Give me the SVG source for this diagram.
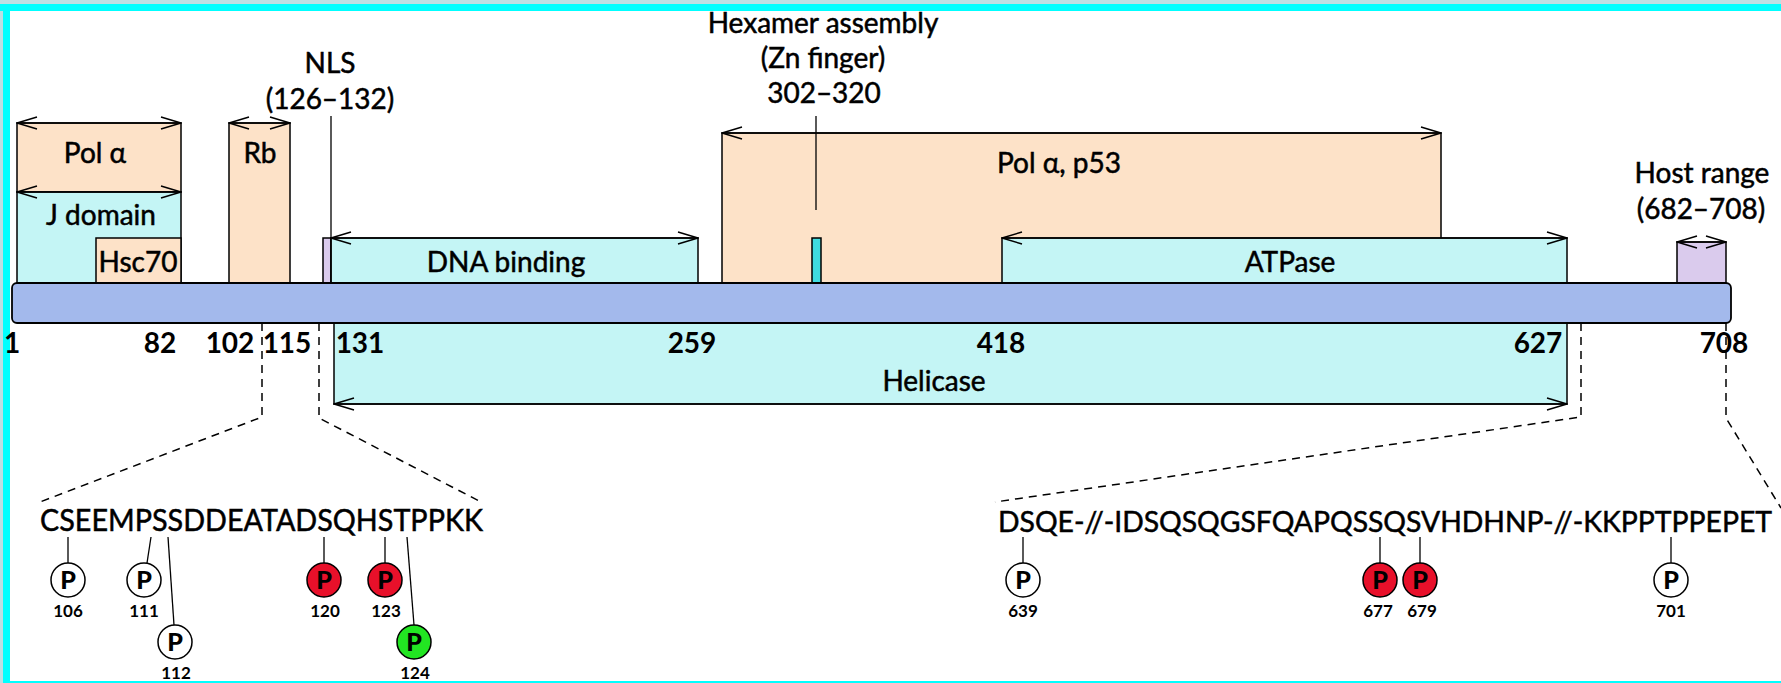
<svg xmlns="http://www.w3.org/2000/svg" width="1781" height="683" viewBox="0 0 1781 683">
<style>
text{font-family:Lato,"Open Sans","Liberation Sans",sans-serif;fill:#000}
.lbl{font-size:28px;text-anchor:middle;stroke:#000;stroke-width:0.5}
.num{font-size:28px;font-weight:bold;text-anchor:middle}
.seq{font-size:28px;stroke:#000;stroke-width:0.5}
.pn{font-size:17px;font-weight:bold;text-anchor:middle}
.pt{font-size:25px;font-weight:900;text-anchor:middle}
.box{stroke:#000;stroke-width:1.5}
.peach{fill:#fde2c8}
.cyan{fill:#c4f5f5}
.purple{fill:#dacbed}
.arr{stroke:#000;stroke-width:1.5;fill:none;marker-start:url(#ah);marker-end:url(#ah)}
.dash{stroke:#000;stroke-width:1.5;fill:none;stroke-dasharray:8 6}
.ln{stroke:#000;stroke-width:1.3;fill:none}
.pc{stroke:#000;stroke-width:1.5}
</style>
<defs>
<marker id="ah" viewBox="0 0 22 14" refX="21" refY="7" markerWidth="22" markerHeight="14" markerUnits="userSpaceOnUse" orient="auto-start-reverse">
<path d="M1,1 L21,7 L1,13" fill="none" stroke="#000" stroke-width="1.5"/>
</marker>
</defs>
<rect x="0" y="0" width="1781" height="683" fill="#fff"/>
<rect x="0" y="0" width="1781" height="4" fill="#bcdfe3"/>
<rect x="0" y="0" width="3" height="683" fill="#bcdfe3"/>
<rect x="0" y="4" width="1781" height="7" fill="#00ffff"/>
<rect x="3" y="4" width="7" height="679" fill="#00ffff"/>
<rect x="3" y="681" width="1778" height="2" fill="#00ffff"/>

<g id="helicase">
<rect class="box cyan" x="334" y="323" width="1233" height="81"/>
<text class="lbl" x="934" y="391">Helicase</text>
</g>
<g id="pol-alpha">
<rect class="box peach" x="17" y="123" width="164" height="69"/>
<text class="lbl" x="95" y="163">Pol α</text>
</g>
<g id="j-domain">
<rect class="box cyan" x="17" y="192" width="164" height="91"/>
<text class="lbl" x="101" y="225">J domain</text>
</g>
<g id="hsc70">
<rect class="box peach" x="96" y="238" width="85" height="45"/>
<text class="lbl" x="138" y="272">Hsc70</text>
</g>
<g id="rb">
<rect class="box peach" x="229" y="123" width="61" height="160"/>
<text class="lbl" x="260" y="163">Rb</text>
</g>
<g id="nls">
<rect class="box purple" x="323" y="238" width="8" height="45"/>
<text class="lbl" x="330" y="73">NLS</text>
<text class="lbl" x="330" y="109">(126–132)</text>
</g>
<g id="dna-binding">
<rect class="box cyan" x="331" y="238" width="367" height="45"/>
<text class="lbl" x="506" y="272">DNA binding</text>
</g>
<g id="pol-alpha-p53">
<rect class="box peach" x="722" y="133" width="719" height="150"/>
<text class="lbl" x="1059" y="173">Pol α, p53</text>
</g>
<g id="zn-finger">
<rect class="box" x="812" y="238" width="9" height="45" fill="#3fdde0"/>
<text class="lbl" x="823" y="33">Hexamer assembly</text>
<text class="lbl" x="823" y="68">(Zn finger)</text>
<text class="lbl" x="824" y="103">302–320</text>
</g>
<g id="atpase">
<rect class="box cyan" x="1002" y="238" width="565" height="45"/>
<text class="lbl" x="1290" y="272">ATPase</text>
</g>
<g id="host-range">
<rect class="box purple" x="1677" y="242" width="49" height="41"/>
<text class="lbl" x="1702" y="183">Host range</text>
<text class="lbl" x="1701" y="219">(682–708)</text>
</g>
<g id="bar">
<rect x="12" y="283" width="1719" height="40" rx="5" fill="#a3b9ec" stroke="#000" stroke-width="1.8"/>
</g>
<g id="numbers">
<text class="num" x="12" y="353">1</text>
<text class="num" x="160" y="353">82</text>
<text class="num" x="230" y="353">102</text>
<text class="num" x="287" y="353">115</text>
<text class="num" x="360" y="353">131</text>
<text class="num" x="692" y="353">259</text>
<text class="num" x="1001" y="353">418</text>
<text class="num" x="1538" y="353">627</text>
<text class="num" x="1724" y="353">708</text>
</g>

<g id="connectors">
<line class="arr" x1="17" y1="123" x2="181" y2="123"/>
<line class="arr" x1="17" y1="192" x2="181" y2="192"/>
<line class="arr" x1="229" y1="123" x2="290" y2="123"/>
<line class="arr" x1="331" y1="238" x2="698" y2="238"/>
<line class="arr" x1="722" y1="133" x2="1441" y2="133"/>
<line class="arr" x1="1002" y1="238" x2="1567" y2="238"/>
<line class="arr" x1="1677" y1="242" x2="1726" y2="242"/>
<line class="arr" x1="334" y1="404" x2="1567" y2="404"/>
<line class="ln" x1="331" y1="116" x2="331" y2="283"/>
<line class="ln" x1="816" y1="116" x2="816" y2="210"/>
<polyline class="dash" points="262,323 262,417 40,502"/>
<polyline class="dash" points="319,323 319,418 483,503"/>
<polyline class="dash" points="1581,323 1581,417 995,502"/>
<polyline class="dash" points="1726,323 1726,418 1781,508"/>
<line class="ln" x1="68" y1="537" x2="68" y2="563"/>
<line class="ln" x1="151" y1="537" x2="147" y2="563"/>
<line class="ln" x1="168" y1="537" x2="174" y2="625"/>
<line class="ln" x1="324" y1="537" x2="324" y2="563"/>
<line class="ln" x1="385" y1="537" x2="385" y2="563"/>
<line class="ln" x1="407" y1="537" x2="414" y2="625"/>
<line class="ln" x1="1023" y1="537" x2="1023" y2="563"/>
<line class="ln" x1="1380" y1="537" x2="1380" y2="563"/>
<line class="ln" x1="1420" y1="537" x2="1420" y2="563"/>
<line class="ln" x1="1671" y1="537" x2="1671" y2="563"/>
</g>

<g id="seq-left">
<text class="seq" x="40" y="531" textLength="443" lengthAdjust="spacingAndGlyphs" style="font-size:30px">CSEEMPSSDDEATADSQHSTPPKK</text>
</g>
<g id="seq-right">
<text class="seq" x="998" y="532" textLength="774" lengthAdjust="spacingAndGlyphs">DSQE-//-IDSQSQGSFQAPQSSQSVHDHNP-//-KKPPTPPEPET</text>
</g>

<g id="p106"><circle class="pc" cx="68" cy="580" r="17" fill="#fff"/><text class="pt" x="68" y="589">P</text><text class="pn" x="68" y="617">106</text></g>
<g id="p111"><circle class="pc" cx="144" cy="580" r="17" fill="#fff"/><text class="pt" x="144" y="589">P</text><text class="pn" x="144" y="617">111</text></g>
<g id="p112"><circle class="pc" cx="175" cy="642" r="17" fill="#fff"/><text class="pt" x="175" y="651">P</text><text class="pn" x="176" y="679">112</text></g>
<g id="p120"><circle class="pc" cx="324" cy="580" r="17" fill="#e8102a"/><text class="pt" x="324" y="589">P</text><text class="pn" x="325" y="617">120</text></g>
<g id="p123"><circle class="pc" cx="385" cy="580" r="17" fill="#e8102a"/><text class="pt" x="385" y="589">P</text><text class="pn" x="386" y="617">123</text></g>
<g id="p124"><circle class="pc" cx="414" cy="642" r="17" fill="#22e622"/><text class="pt" x="414" y="651">P</text><text class="pn" x="415" y="679">124</text></g>
<g id="p639"><circle class="pc" cx="1023" cy="580" r="17" fill="#fff"/><text class="pt" x="1023" y="589">P</text><text class="pn" x="1023" y="617">639</text></g>
<g id="p677"><circle class="pc" cx="1380" cy="580" r="17" fill="#e8102a"/><text class="pt" x="1380" y="589">P</text><text class="pn" x="1378" y="617">677</text></g>
<g id="p679"><circle class="pc" cx="1420" cy="580" r="17" fill="#e8102a"/><text class="pt" x="1420" y="589">P</text><text class="pn" x="1422" y="617">679</text></g>
<g id="p701"><circle class="pc" cx="1671" cy="580" r="17" fill="#fff"/><text class="pt" x="1671" y="589">P</text><text class="pn" x="1671" y="617">701</text></g>
</svg>
